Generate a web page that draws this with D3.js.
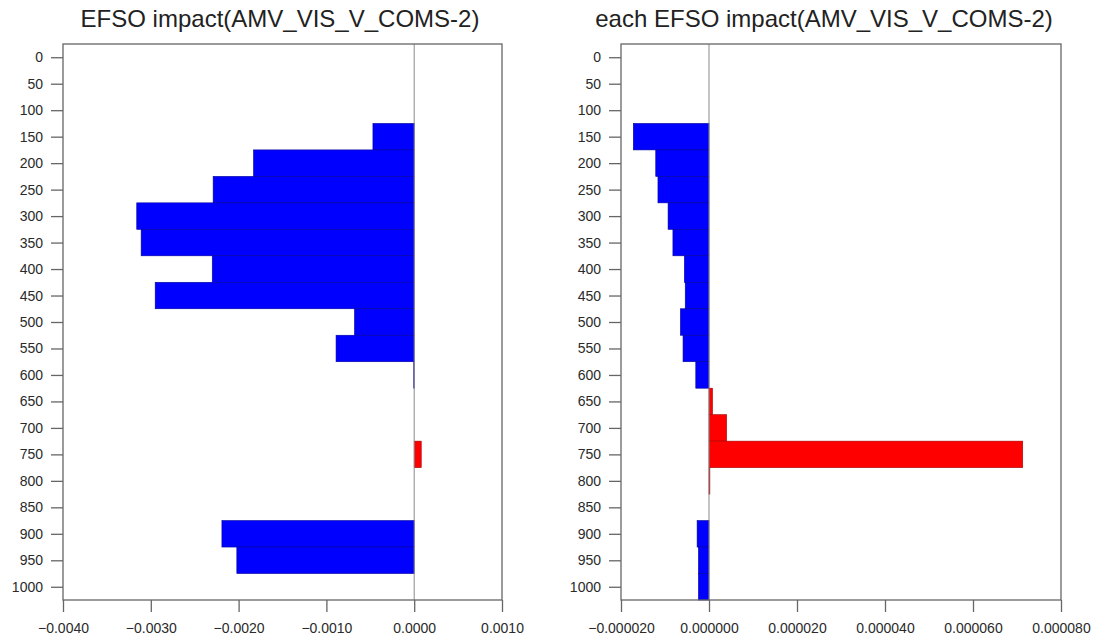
<!DOCTYPE html>
<html>
<head>
<meta charset="utf-8">
<script src="https://cdn.jsdelivr.net/npm/d3@7"></script>
<style>
  html, body { margin: 0; padding: 0; background: #fff; }
  svg { display: block; font-family: "Liberation Sans", Arial, Helvetica, sans-serif; }
</style>
</head>
<body>
<svg id="chart" width="1093" height="638"></svg>
<script>
// Pressure levels (hPa), one bar per level, each spanning ±25 hPa
const levels = [0, 50, 100, 150, 200, 250, 300, 350, 400, 450, 500,
                550, 600, 650, 700, 750, 800, 850, 900, 950, 1000];

// Total EFSO impact per level
const totalImpact = [0, 0, 0, -0.00047, -0.00183, -0.00229, -0.00316, -0.00311, -0.00230, -0.00295, -0.00068,
                     -0.00089, -0.000005, 0, 0, 0.00008, 0, 0, -0.00219, -0.00202, 0];

// Impact per observation per level
const eachImpact = [0, 0, 0, -0.0000172, -0.0000121, -0.0000116, -0.0000093, -0.0000082, -0.0000056, -0.0000054, -0.0000065,
                    -0.0000059, -0.0000030, 0.0000008, 0.0000040, 0.0000713, 0.0000002, 0, -0.0000027, -0.0000024, -0.0000024];

const totalTicks = [-0.004, -0.003, -0.002, -0.001, 0, 0.001];
const eachTicks = [-0.00002, 0, 0.00002, 0.00004, 0.00006, 0.00008];

const panels = [
  { title: "EFSO impact(AMV_VIS_V_COMS-2)", values: totalImpact, domain: [-0.004, 0.001],
    ticks: totalTicks, fmt: d3.format(".4f"), left: 63, right: 502, titleX: 280 },
  { title: "each EFSO impact(AMV_VIS_V_COMS-2)", values: eachImpact, domain: [-0.00002, 0.00008],
    ticks: eachTicks, fmt: d3.format(".6f"), left: 621, right: 1061, titleX: 824 }
];

const plotTop = 44, plotBottom = 600;
const svg = d3.select("#chart");

const y = d3.scaleLinear().domain([-25, 1025]).range([plotTop, plotBottom]);
const halfBand = 25;

panels.forEach(p => {
  const g = svg.append("g");
  const x = d3.scaleLinear().domain(p.domain).range([p.left, p.right]);

  // bars
  g.selectAll("rect.bar")
    .data(levels.map((lv, i) => ({ lv, v: p.values[i] })))
    .join("rect")
    .attr("class", "bar")
    .attr("x", d => Math.min(x(0), x(d.v)))
    .attr("width", d => Math.abs(x(d.v) - x(0)))
    .attr("y", d => y(d.lv - halfBand))
    .attr("height", d => y(d.lv + halfBand) - y(d.lv - halfBand))
    .attr("fill", d => d.v >= 0 ? "#ff0000" : "#0000ff")
    .attr("stroke", d => d.v >= 0 ? "#a00000" : "#00009a")
    .attr("stroke-width", 0.6);

  // zero reference line
  g.append("line")
    .attr("x1", x(0)).attr("x2", x(0))
    .attr("y1", plotTop).attr("y2", plotBottom)
    .attr("stroke", "#8a8a8a").attr("stroke-width", 1);

  // frame
  g.append("rect")
    .attr("x", p.left).attr("y", plotTop)
    .attr("width", p.right - p.left).attr("height", plotBottom - plotTop)
    .attr("fill", "none").attr("stroke", "#666").attr("stroke-width", 1.3);

  // left axis
  const yAxis = d3.axisLeft(y).tickValues(levels).tickSize(12).tickPadding(8).tickFormat(d3.format("d"));
  const ya = g.append("g").attr("transform", `translate(${p.left},0)`).call(yAxis);
  ya.select(".domain").remove();
  ya.selectAll(".tick line").attr("stroke", "#666").attr("stroke-width", 1.3);
  ya.selectAll(".tick text").attr("fill", "#2a2a2a").style("font-size", "14px");

  // bottom axis
  const xAxis = d3.axisBottom(x).tickValues(p.ticks).tickSize(12).tickPadding(11).tickFormat(p.fmt);
  const xa = g.append("g").attr("transform", `translate(0,${plotBottom})`).call(xAxis);
  xa.select(".domain").remove();
  xa.selectAll(".tick line").attr("stroke", "#666").attr("stroke-width", 1.3);
  xa.selectAll(".tick text").attr("fill", "#2a2a2a").style("font-size", "14px");

  // title
  svg.append("text")
    .attr("x", p.titleX).attr("y", 27)
    .attr("text-anchor", "middle")
    .attr("fill", "#222")
    .style("font-size", "24px")
    .text(p.title);
});
</script>
</body>
</html>
